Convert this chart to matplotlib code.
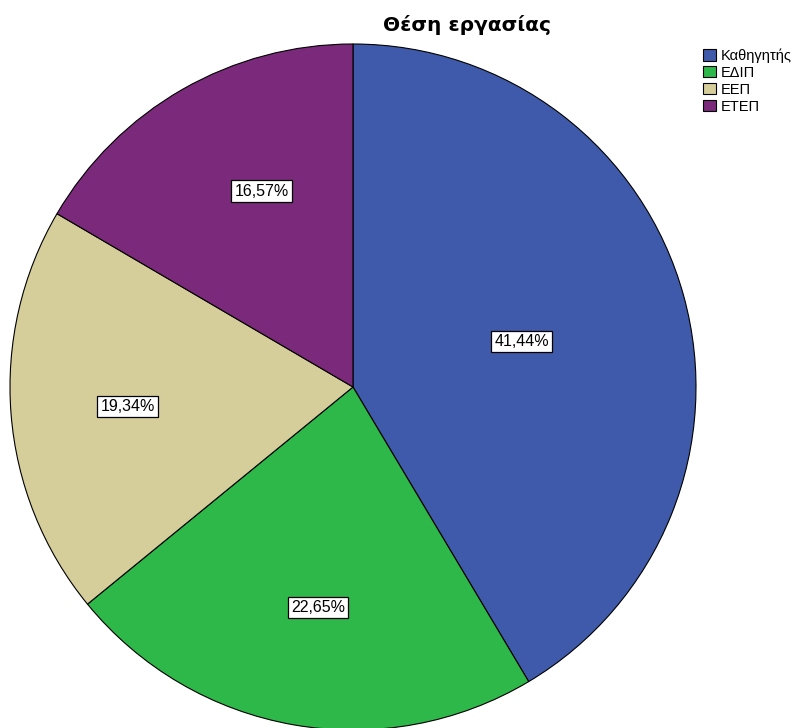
import numpy as np
import matplotlib.pyplot as plt

categories = ['Καθηγητής', 'ΕΔΙΠ', 'ΕΕΠ', 'ΕΤΕΠ']
percentages = [41.44, 22.65, 19.34, 16.57]
colors = ['#3f5aaa', '#2eb84a', '#d5ce9a', '#7b2a7b']

# where each value label sits: fraction of radius and angle in degrees
label_dist = [0.51, 0.65, 0.66, 0.63]
label_angle = [15.0, 261.0, 185.0, 115.0]

W, H = 797, 728
cx, cy, r = 353, 387, 343  # pie centre and radius in pixels
font = ['Liberation Sans', 'DejaVu Sans']

fig = plt.figure(figsize=(W / 100, H / 100), dpi=100)
ax = fig.add_axes([0, 0, 1, 1])

wedges, _, autotexts = ax.pie(
    percentages, colors=colors, startangle=90, counterclock=False,
    autopct=lambda p: f'{p:.2f}%'.replace('.', ','),
    wedgeprops=dict(edgecolor='black', linewidth=0.8),
    textprops=dict(fontsize=11.5, family=font))

for t, d, a in zip(autotexts, label_dist, label_angle):
    t.set_position((d * np.cos(np.radians(a)), d * np.sin(np.radians(a))))
    t.set_bbox(dict(boxstyle='square,pad=0.2', facecolor='white',
                    edgecolor='black', linewidth=0.9))

# map data units to pixel positions
ax.set_xlim(-cx / r, (W - cx) / r)
ax.set_ylim(-(H - cy) / r, cy / r)
ax.set_aspect('auto')
ax.axis('off')

fig.text(467 / W, 1 - 25 / H, 'Θέση εργασίας', ha='center', va='center',
         fontsize=14.5, fontweight='bold', family='DejaVu Sans')

fig.legend(wedges, categories, loc='upper left',
           bbox_to_anchor=(696 / W, 1 - 41 / H), frameon=False,
           prop=dict(family=font, size=10.5),
           handlelength=0.85, handleheight=0.85, handletextpad=0.35,
           labelspacing=0.2, borderpad=0)

fig.savefig('out.png', dpi=100)
